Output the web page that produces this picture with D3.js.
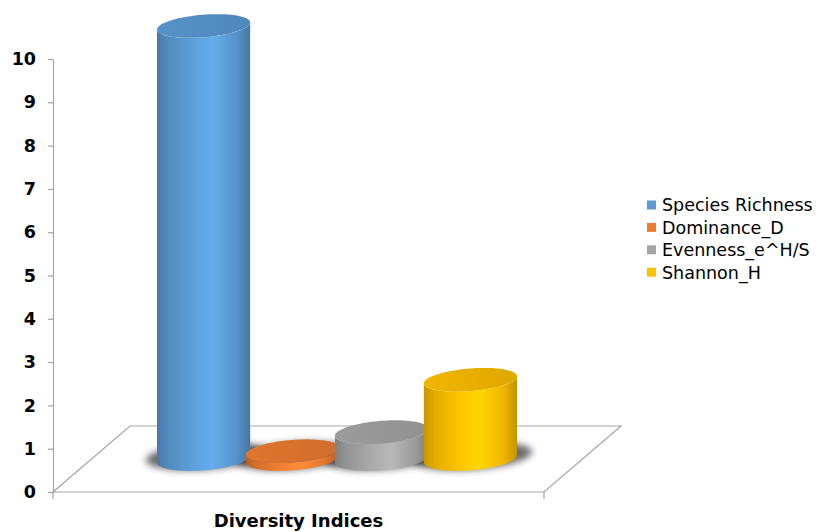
<!DOCTYPE html>
<html>
<head>
<meta charset="utf-8">
<script src="https://cdn.jsdelivr.net/npm/d3@7"></script>
<style>
  html, body { margin: 0; padding: 0; background: #ffffff; }
  svg { display: block; }
</style>
</head>
<body>
<svg id="chart" width="822" height="532"></svg>
<script>
// ---- data ----
const categoryLabel = "Diversity Indices";
const seriesNames = ["Species Richness", "Dominance_D", "Evenness_e^H/S", "Shannon_H"];
const seriesValues = [10, 0.18, 0.62, 1.83];
const seriesColors = ["#5b9bd5", "#ed7d31", "#a5a5a5", "#ffc000"];
const yTicks = [0, 1, 2, 3, 4, 5, 6, 7, 8, 9, 10];

// ---- layout ----
const svg = d3.select("#chart");
const front = { left: 53, right: 544 };      // front edge of the floor
const depth = { dx: 77, dy: 66 };            // screen offset of the floor's full depth
const axisColor = "#a6a6a6";
const fontFamily = "'DejaVu Sans', Verdana, sans-serif";

const y = d3.scaleLinear().domain([0, 10]).range([492, 59]);
const x = d3.scaleBand()
  .domain(seriesNames)
  .range([front.left, front.right])
  .paddingInner(0)
  .paddingOuter(0.76);

const defs = svg.append("defs");
defs.append("filter").attr("id", "soft")
  .attr("x", "-50%").attr("y", "-50%").attr("width", "200%").attr("height", "200%")
  .append("feGaussianBlur").attr("stdDeviation", 3.5);

// ---- floor ----
const floorPts = [
  [front.left, y(0)],
  [front.right, y(0)],
  [front.right + depth.dx, y(0) - depth.dy],
  [front.left + depth.dx, y(0) - depth.dy]
];
svg.append("path")
  .attr("d", d3.line()(floorPts) + "Z")
  .attr("fill", "none")
  .attr("stroke", axisColor)
  .attr("stroke-width", 1.2);

// small tick marks below the front edge
[front.left, front.right].forEach(px => {
  svg.append("line")
    .attr("x1", px).attr("x2", px)
    .attr("y1", y(0)).attr("y2", y(0) + 7)
    .attr("stroke", axisColor).attr("stroke-width", 1.2);
});

// ---- value axis ----
const yAxis = d3.axisLeft(y)
  .tickValues(yTicks)
  .tickSize(5)
  .tickSizeOuter(0)
  .tickPadding(12)
  .tickFormat(d3.format("d"));

const gy = svg.append("g")
  .attr("transform", `translate(${front.left},0)`)
  .call(yAxis);
gy.select(".domain").attr("stroke", axisColor).attr("stroke-width", 1.2);
gy.selectAll(".tick line").attr("stroke", axisColor).attr("stroke-width", 1.2);
gy.selectAll(".tick text")
  .attr("font-family", fontFamily)
  .attr("font-weight", "bold")
  .attr("font-size", 17.5)
  .attr("fill", "#000");

// ---- cylinders ----
const r = x.bandwidth() * 0.5;          // radius across the category axis
const kx = 0.18 * depth.dx;             // radius along depth, horizontal part
const ky = 0.18 * depth.dy;             // radius along depth, vertical part
const halfW = Math.sqrt(r * r + kx * kx);
const thetaS = Math.atan2(kx, r);       // right silhouette angle

function ellipsePoint(cx, cy, t) {
  return [cx + r * Math.cos(t) + kx * Math.sin(t), cy - ky * Math.sin(t)];
}
function arc(cx, cy, t0, t1, n) {
  return d3.range(n + 1).map(i => ellipsePoint(cx, cy, t0 + (t1 - t0) * i / n));
}
const line = d3.line();

const cyl = seriesNames.map((name, i) => {
  const cx = x(name) + x.bandwidth() / 2 + depth.dx * 0.5;
  return {
    name, value: seriesValues[i], color: seriesColors[i], i, cx,
    base: y(0) - depth.dy * 0.5,
    top: y(seriesValues[i]) - depth.dy * 0.5
  };
});

// soft floor shadows
svg.append("g").selectAll("path.shadow")
  .data(cyl)
  .join("path")
  .attr("class", "shadow")
  .attr("d", d => {
    const pts = d3.range(61).map(j => {
      const t = j / 60 * Math.PI * 2;
      return [d.cx + 2 + 1.28 * (r * Math.cos(t) + kx * Math.sin(t)),
              d.base - 3 - 1.2 * ky * Math.sin(t)];
    });
    return line(pts) + "Z";
  })
  .attr("fill", "#2a2a2a")
  .attr("opacity", 0.7)
  .attr("filter", "url(#soft)");

// side and top gradients
cyl.forEach(d => {
  const c = d3.color(d.color);
  const g = defs.append("linearGradient")
    .attr("id", "side" + d.i)
    .attr("gradientUnits", "userSpaceOnUse")
    .attr("x1", d.cx - halfW).attr("x2", d.cx + halfW)
    .attr("y1", 0).attr("y2", 0);
  [
    [0, c.darker(0.7)],
    [0.12, c.darker(0.3)],
    [0.45, c.brighter(0.15)],
    [0.6, c.brighter(0.3)],
    [0.85, c.darker(0.15)],
    [1, c.darker(0.75)]
  ].forEach(([o, col]) => g.append("stop").attr("offset", o).attr("stop-color", col.formatHex()));

  const tg = defs.append("linearGradient")
    .attr("id", "top" + d.i)
    .attr("gradientUnits", "userSpaceOnUse")
    .attr("x1", d.cx - halfW).attr("x2", d.cx + halfW)
    .attr("y1", d.top + ky).attr("y2", d.top - ky);
  [
    [0, c.darker(0.15)],
    [1, c.darker(0.38)]
  ].forEach(([o, col]) => tg.append("stop").attr("offset", o).attr("stop-color", col.formatHex()));
});

const gc = svg.append("g").selectAll("g.cyl")
  .data(cyl)
  .join("g")
  .attr("class", "cyl");

gc.append("path")
  .attr("d", d => {
    const bottom = arc(d.cx, d.base, thetaS, thetaS - Math.PI, 60);
    const topArc = arc(d.cx, d.top, thetaS - Math.PI, thetaS, 60);
    return line(bottom.concat(topArc)) + "Z";
  })
  .attr("fill", d => `url(#side${d.i})`);

gc.append("path")
  .attr("d", d => line(arc(d.cx, d.top, 0, Math.PI * 2, 90)) + "Z")
  .attr("fill", d => `url(#top${d.i})`);

// ---- category title ----
svg.append("text")
  .attr("x", (front.left + front.right) / 2)
  .attr("y", 527)
  .attr("text-anchor", "middle")
  .attr("font-family", fontFamily)
  .attr("font-weight", "bold")
  .attr("font-size", 18)
  .attr("fill", "#000")
  .text(categoryLabel);

// ---- legend ----
const legend = svg.append("g").attr("transform", "translate(647,205)");
const rows = legend.selectAll("g")
  .data(seriesNames)
  .join("g")
  .attr("transform", (d, i) => `translate(0,${i * 22.4})`);
rows.append("rect")
  .attr("x", 0).attr("y", -4.5)
  .attr("width", 9).attr("height", 9)
  .attr("fill", (d, i) => seriesColors[i]);
rows.append("text")
  .attr("x", 15)
  .attr("dy", "0.36em")
  .attr("font-family", fontFamily)
  .attr("font-size", 17.5)
  .attr("fill", "#000")
  .text(d => d);
</script>
</body>
</html>
